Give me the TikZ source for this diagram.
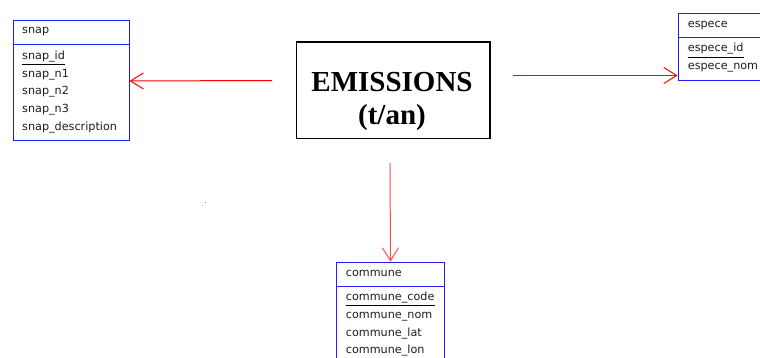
\documentclass[tikz,border=0pt]{standalone}
\usepackage{fontspec}
\setmainfont{Liberation Serif}
\newfontfamily\boxfont{DejaVu Sans}
\usetikzlibrary{arrows.meta}
\definecolor{tblue}{RGB}{30,30,255}
\definecolor{ttext}{RGB}{30,30,30}
\begin{document}
\begin{tikzpicture}[x=1pt,y=-1pt,
  tablebox/.style={draw=tblue, line width=1pt, anchor=north west, inner sep=0pt},
  tabline/.style={draw=tblue, line width=1pt},
  attr/.style={anchor=base west, inner sep=0pt, text=ttext, font=\boxfont\fontsize{11.2}{13}\selectfont},
  keyline/.style={draw=black, line width=0.9pt},
  emtext/.style={anchor=base, inner sep=0pt, font=\fontsize{29}{33}\selectfont\bfseries},
  rel/.style={draw=red, line width=1pt, -{Straight Barb[length=13pt,width=16pt]}}
]
\useasboundingbox (0,0) rectangle (760,358);
\fill[white] (0,0) rectangle (760,358);
\clip (0,0) rectangle (760,358);

% snap table
\node[tablebox, minimum width=116pt, minimum height=120pt] (snap) at (12.5,20.5) {};
\draw[tabline] (snap.west |- 0,44.5) -- (snap.east |- 0,44.5);
\node[attr] (snapH) at (22,34) {snap};
\node[attr] (snapId) at (22,59.6) {snap\_id};
\draw[keyline] ([yshift=-4.8pt]snapId.base west) -- ([yshift=-4.8pt]snapId.base east);
\node[attr] (snapN1) at (22,77.3) {snap\_n1};
\node[attr] (snapN2) at (22,95) {snap\_n2};
\node[attr] (snapN3) at (22,112.7) {snap\_n3};
\node[attr] (snapD) at (22,130.4) {snap\_description};

% espece table
\node[tablebox, minimum width=100pt, minimum height=66.7pt] (espece) at (677.7,13.3) {};
\draw[tabline] (espece.west |- 0,37.7) -- (espece.east |- 0,37.7);
\node[attr] (espH) at (687.7,27.3) {espece};
\node[attr] (espId) at (687.7,51.7) {espece\_id};
\draw[keyline] ([yshift=-5.4pt]espId.base west) -- ([yshift=-5.4pt]espId.base east);
\node[attr] (espNom) at (687.7,69.2) {espece\_nom};

% commune table
\node[tablebox, minimum width=108.6pt, minimum height=110pt] (commune) at (335.7,261.7) {};
\draw[tabline] (commune.west |- 0,286.3) -- (commune.east |- 0,286.3);
\node[attr] (comH) at (345.7,276) {commune};
\node[attr] (comCode) at (345.7,300.7) {commune\_code};
\draw[keyline] ([yshift=-5pt]comCode.base west) -- ([yshift=-5pt]comCode.base east);
\node[attr] (comNom) at (345.7,318.4) {commune\_nom};
\node[attr] (comLat) at (345.7,336.1) {commune\_lat};
\node[attr] (comLon) at (345.7,353.8) {commune\_lon};

% EMISSIONS box
\node[draw=black, line width=1.6pt, anchor=north west, minimum width=193.3pt, minimum height=96.7pt, inner sep=0pt] (em) at (295.7,41) {};
\node[emtext] (emT1) at (392,91.7) {EMISSIONS};
\node[emtext] (emT2) at (392,125) {(t/an)};

% connector start points (edge of the EMISSIONS image)
\coordinate (emL) at (272,80.5);
\coordinate (emR) at (513,75.5);
\coordinate (emB) at (390,163);

\draw[rel] (emL) -- (snap.east);
\draw[rel] (emR) -- (emR -| espece.west);
\draw[rel, draw=red!70] (emB) -- (commune.north);

% stray dot
\fill[black!50] (204.5,202.2) rectangle (205.6,203.4);
\end{tikzpicture}
\end{document}
